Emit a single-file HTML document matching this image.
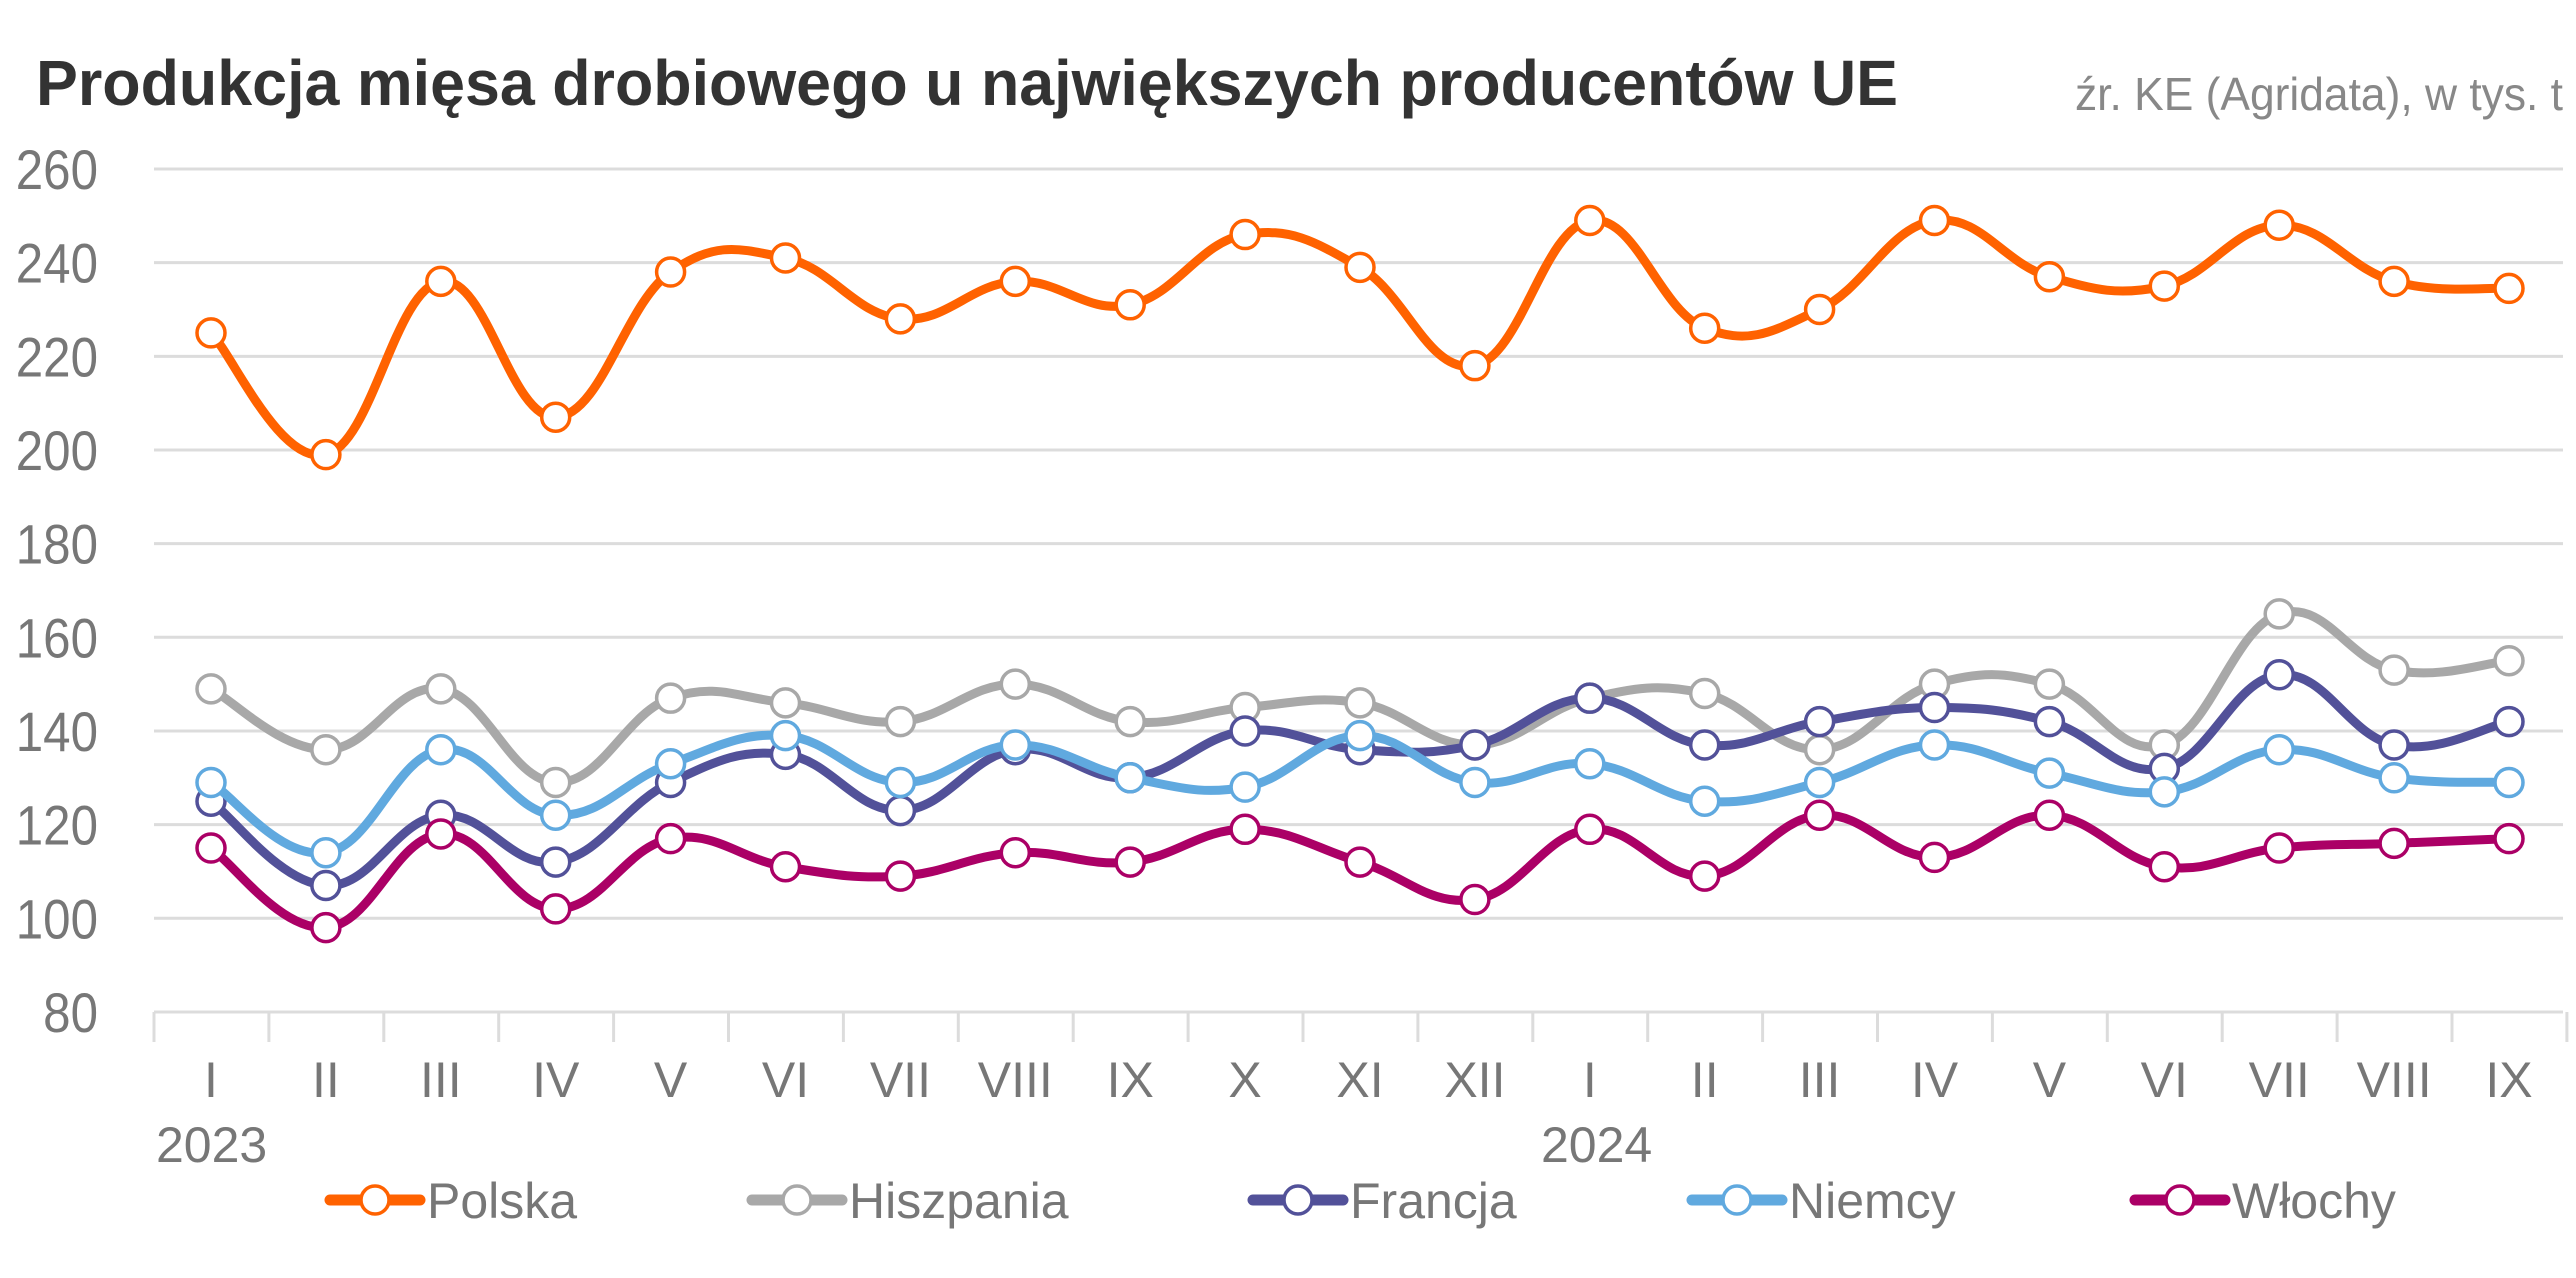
<!DOCTYPE html>
<html><head><meta charset="utf-8"><style>
body{margin:0;background:#fff;}
svg text{font-family:"Liberation Sans","DejaVu Sans",sans-serif;}
</style></head><body>
<svg id="s" width="2576" height="1273" xmlns="http://www.w3.org/2000/svg">
<text x="36" y="105" font-size="64" font-weight="bold" fill="#333" textLength="1862" lengthAdjust="spacingAndGlyphs">Produkcja mięsa drobiowego u największych producentów UE</text>
<text x="2075" y="110" font-size="46" fill="#888" textLength="488" lengthAdjust="spacingAndGlyphs">źr. KE (Agridata), w tys. t</text>
<g id="g"></g>
</svg>
<script>
var g=document.getElementById('g'),h='';
function Y(v){return 169+(260-v)*4.683;}
function X(i){return 211+i*114.9;}
for(var v=80;v<=260;v+=20){var y=Y(v);h+='<line x1="154" x2="2563" y1="'+y+'" y2="'+y+'" stroke="#dcdcdc" stroke-width="3"/>';
h+='<text x="98" y="'+(y+20)+'" font-size="56" fill="#777" text-anchor="end" transform="translate(98 0) scale(0.88 1) translate(-98 0)">'+v+'</text>';}
for(var i=0;i<=21;i++){var x=154+i*114.9;h+='<line x1="'+x+'" x2="'+x+'" y1="1012" y2="1042" stroke="#dcdcdc" stroke-width="3"/>';}
var m=['I','II','III','IV','V','VI','VII','VIII','IX','X','XI','XII','I','II','III','IV','V','VI','VII','VIII','IX'];
m.forEach(function(t,i){h+='<text x="'+X(i)+'" y="1097" font-size="50" fill="#777" text-anchor="middle">'+t+'</text>';});
h+='<text x="156" y="1162" font-size="50" fill="#777">2023</text><text x="1541" y="1162" font-size="50" fill="#777">2024</text>';
var S=[
['Polska','#FF6200',[225,199,236,207,238,241,228,236,231,246,239,218,249,226,230,249,237,235,248,236,234.5]],
['Hiszpania','#A8A8A8',[149,136,149,129,147,146,142,150,142,145,146,137,147,148,136,150,150,137,165,153,155]],
['Francja','#525199',[125,107,122,112,129,135,123,136,130,140,136,137,147,137,142,145,142,132,152,137,142]],
['Niemcy','#60A9DF',[129,114,136,122,133,139,129,137,130,128,139,129,133,125,129,137,131,127,136,130,129]],
['Włochy','#AB0066',[115,98,118,102,117,111,109,114,112,119,112,104,119,109,122,113,122,111,115,116,117]]];
var lx=[375,797,1298,1737,2180];
S.forEach(function(s,k){var d=s[2],p=d.map(function(v,i){return [X(i),Y(v)];});
var path='M'+p[0][0]+','+p[0][1];
for(var i=0;i<p.length-1;i++){var p0=p[i-1]||p[i],p1=p[i],p2=p[i+1],p3=p[i+2]||p2,t=5;
path+=' C'+(p1[0]+(p2[0]-p0[0])/t)+','+(p1[1]+(p2[1]-p0[1])/t)+' '+(p2[0]-(p3[0]-p1[0])/t)+','+(p2[1]-(p3[1]-p1[1])/t)+' '+p2[0]+','+p2[1];}
h+='<path d="'+path+'" fill="none" stroke="'+s[1]+'" stroke-width="9" stroke-linecap="round"/>';
p.forEach(function(q){h+='<circle cx="'+q[0]+'" cy="'+q[1]+'" r="14" fill="#fff" stroke="'+s[1]+'" stroke-width="3.5"/>';});
var x=lx[k];h+='<line x1="'+(x-45)+'" x2="'+(x+45)+'" y1="1200" y2="1200" stroke="'+s[1]+'" stroke-width="11" stroke-linecap="round"/><circle cx="'+x+'" cy="1200" r="14" fill="#fff" stroke="'+s[1]+'" stroke-width="3.5"/>';
h+='<text x="'+(x+52)+'" y="1218" font-size="50" fill="#777">'+s[0]+'</text>';});
g.innerHTML=h;
</script>
</body></html>
